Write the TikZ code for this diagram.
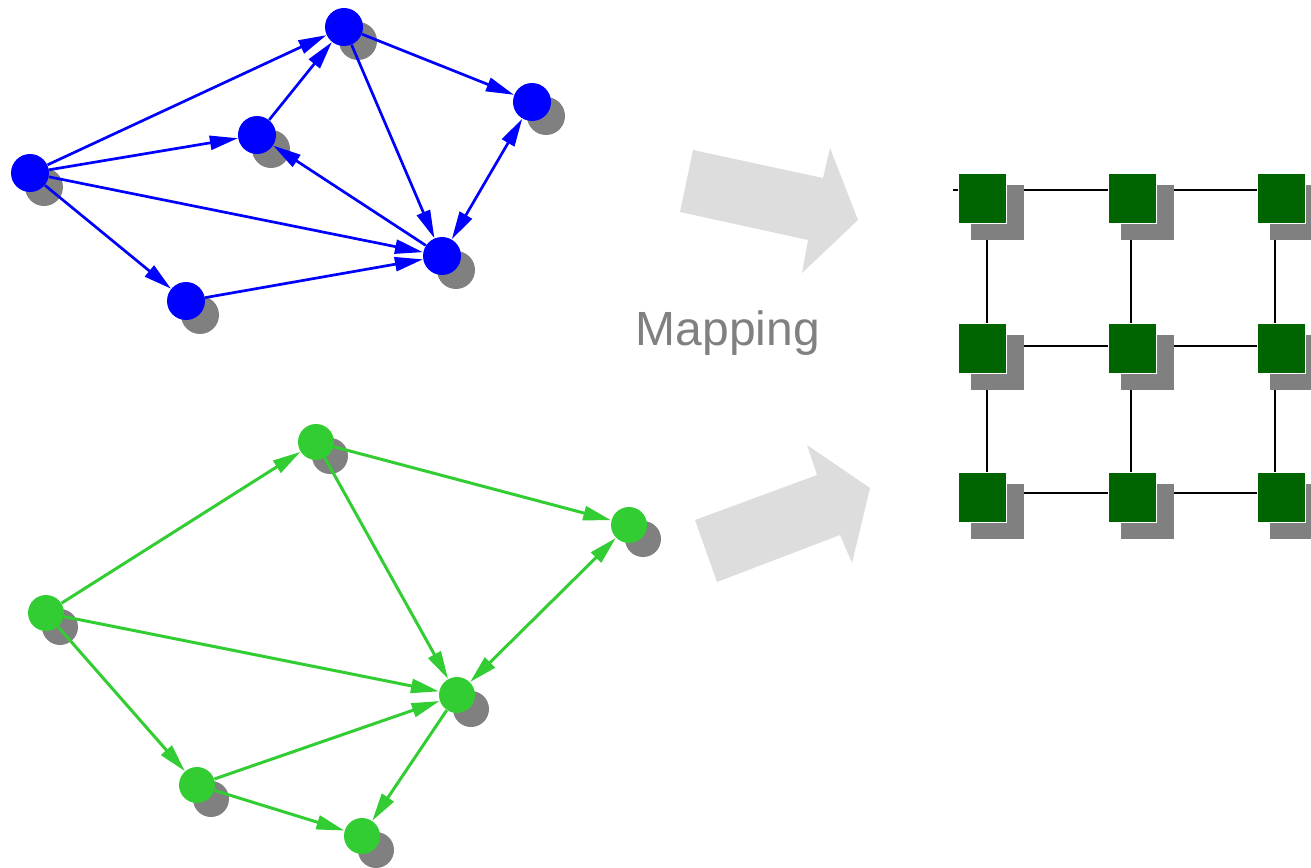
\documentclass[tikz,border=0pt]{standalone}
\usepackage{fontspec}
\setmainfont{Liberation Sans}
\usetikzlibrary{arrows.meta,shadows,backgrounds}
\definecolor{srcblue}{RGB}{0,0,255}
\definecolor{srcgreen}{RGB}{50,205,50}
\definecolor{tilegreen}{RGB}{0,100,0}
\definecolor{shade}{RGB}{128,128,128}
\definecolor{mapgray}{RGB}{221,221,221}

\begin{document}
\begin{tikzpicture}[x=0.5pt, y=-0.5pt, >={Triangle[length=14pt,width=7pt]},
    vertex/.style={circle, inner sep=0pt, minimum size=#1,
        drop shadow={shadow xshift=7pt, shadow yshift=-7pt, fill=shade, opacity=1}},
    bvertex/.style={vertex=19pt, fill=srcblue},
    gvertex/.style={vertex=18pt, fill=srcgreen},
    bedge/.style={srcblue, line width=1.35pt, ->},
    gedge/.style={srcgreen, line width=1.5pt, ->},
    meshline/.style={black, line width=1.2pt}]
\tikzset{tile/.style={rectangle, inner sep=0pt, minimum width=24pt, minimum height=25pt,
    fill=tilegreen, draw=white, line width=0.4pt,
    drop shadow={shadow scale=1.1, shadow xshift=7pt, shadow yshift=-6.75pt,
                 fill=shade, opacity=1}}}
%\tikzset{tile/.style={rectangle, fill=tilegreen, minimum size=25pt}}
\useasboundingbox (0,0) rectangle (1311,867);

% blue graph
\node[bvertex] (b1) at (30,173) {};
\node[bvertex] (b2) at (344,27) {};
\node[bvertex] (b3) at (257,135) {};
\node[bvertex] (b4) at (532,102) {};
\node[bvertex] (b5) at (442,256) {};
\node[bvertex] (b6) at (186,301) {};

\draw[bedge] (b1) -- (b2);
\draw[bedge] (b1) -- (b3);
\draw[bedge] (b1) -- (b5);
\draw[bedge] (b1) -- (b6);
\draw[bedge] (b3) -- (b2);
\draw[bedge] (b5) -- (b3);
\draw[bedge] (b2) -- (b5);
\draw[bedge] (b2) -- (b4);
\draw[bedge, <->] (b5) -- (b4);
\draw[bedge] (b6) -- (b5);

% green graph
\node[gvertex] (g1) at (46,613) {};
\node[gvertex] (g2) at (316,442) {};
\node[gvertex] (g3) at (629,525) {};
\node[gvertex] (g4) at (457,695) {};
\node[gvertex] (g5) at (197,785) {};
\node[gvertex] (g6) at (362,836) {};

\draw[gedge] (g1) -- (g2);
\draw[gedge] (g1) -- (g4);
\draw[gedge] (g1) -- (g5);
\draw[gedge] (g2) -- (g3);
\draw[gedge] (g2) -- (g4);
\draw[gedge, <->] (g4) -- (g3);
\draw[gedge] (g5) -- (g4);
\draw[gedge] (g5) -- (g6);
\draw[gedge] (g4) -- (g6);

% mapping arrows
\fill[mapgray] (693,150) -- (823,178) -- (830,148) -- (858,220) -- (802,273)
    -- (808,240) -- (680,212) -- cycle;
\fill[mapgray] (695,520) -- (817,475) -- (807,445) -- (870,488) -- (852,563)
    -- (840,535) -- (717,582) -- cycle;
\node[text=shade, font=\fontsize{24}{28}\selectfont] (maplabel) at (728,333) {Mapping};

% mesh
\node[tile] (t11) at (982,198) {};
\node[tile] (t12) at (1132,198) {};
\node[tile] (t13) at (1281,198) {};
\node[tile] (t21) at (982,348) {};
\node[tile] (t22) at (1132,348) {};
\node[tile] (t23) at (1281,348) {};
\node[tile] (t31) at (982,497) {};
\node[tile] (t32) at (1132,497) {};
\node[tile] (t33) at (1281,497) {};

\coordinate (p11) at (987,190);
\coordinate (p12) at (1131,190);
\coordinate (p13) at (1275,190);
\coordinate (p21) at (987,346);
\coordinate (p22) at (1131,346);
\coordinate (p23) at (1275,346);
\coordinate (p31) at (987,493);
\coordinate (p32) at (1131,493);
\coordinate (p33) at (1275,493);

\begin{scope}[on background layer]
    \draw[meshline] ([xshift=-17pt]p11) -- (p12) -- (p13) -- ++(40,0);
    \draw[meshline] (p21) -- (p22) -- (p23) -- ++(40,0);
    \draw[meshline] (p31) -- (p32) -- (p33) -- ++(40,0);
    \draw[meshline] (p11) -- (p21) -- (p31) -- ++(0,45);
    \draw[meshline] (p12) -- (p22) -- (p32) -- ++(0,45);
    \draw[meshline] (p13) -- (p23) -- (p33) -- ++(0,45);
\end{scope}
\end{tikzpicture}
\end{document}
